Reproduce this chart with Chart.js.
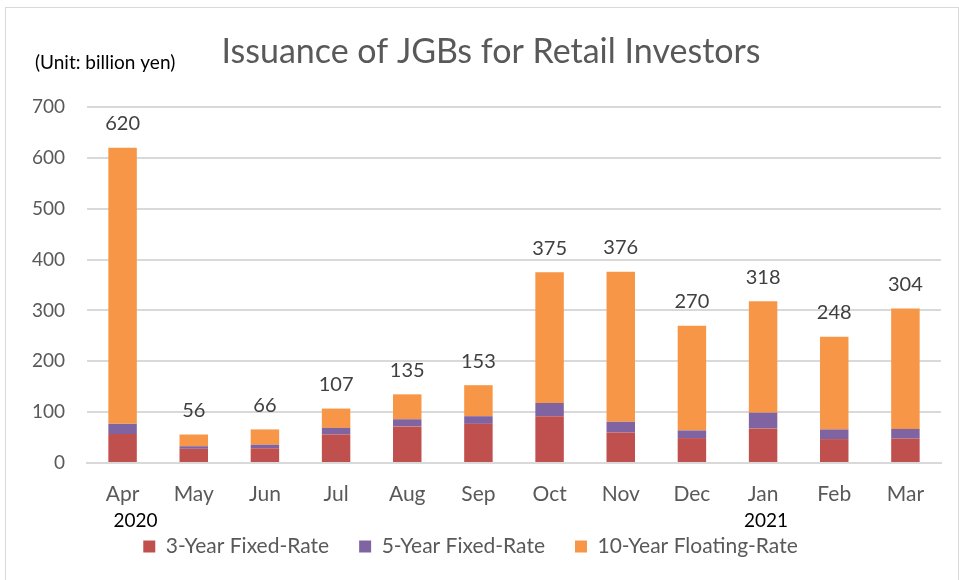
<!DOCTYPE html>
<html lang="en">
<head>
    <meta charset="UTF-8">
    <title>Issuance of JGBs for Retail Investors</title>
    <script src="https://cdn.jsdelivr.net/npm/chart.js"></script>
    <style>
        body {
            margin: 0;
            background: #fff;
        }
        .frame {
            position: absolute;
            left: 5px;
            top: 7px;
            width: 952px;
            height: 580px;
            border: 1px solid #d9d9d9;
        }
        canvas {
            position: absolute;
            left: 0;
            top: 0;
        }
    </style>
</head>
<body>
    <div class="frame"></div>
    <canvas id="jgbChart" width="959" height="580"></canvas>

    <script>
        const months = ['Apr', 'May', 'Jun', 'Jul', 'Aug', 'Sep', 'Oct', 'Nov', 'Dec', 'Jan', 'Feb', 'Mar'];
        const years = { Apr: '2020', Jan: '2021' };
        const fixed3 = [57, 28, 29, 56, 72, 77, 92, 60, 49, 68, 47, 48];
        const fixed5 = [20, 5, 7, 13, 14, 15, 26, 21, 15, 31, 19, 19];
        const floating10 = [543, 23, 30, 38, 49, 61, 257, 295, 206, 219, 182, 237];
        const totals = [620, 56, 66, 107, 135, 153, 375, 376, 270, 318, 248, 304];
        const yTicks = [0, 100, 200, 300, 400, 500, 600, 700];

        const fontName = 'Lato, "Open Sans", sans-serif';
        const grey = '#595959';

        // totals over the bars, title, unit note and year labels
        const extras = {
            id: 'extras',
            afterDatasetsDraw(chart) {
                const ctx = chart.ctx;
                const x = chart.scales.x;
                const y = chart.scales.y;
                ctx.save();
                ctx.fillStyle = '#404040';
                ctx.font = '20px ' + fontName;
                ctx.textAlign = 'center';
                ctx.textBaseline = 'bottom';
                totals.forEach((t, i) => {
                    ctx.fillText(t, x.getPixelForValue(i), y.getPixelForValue(t) - 14);
                });

                ctx.fillStyle = grey;
                ctx.font = '34px ' + fontName;
                ctx.textBaseline = 'middle';
                ctx.fillText('Issuance of JGBs for Retail Investors', 491, 52);

                ctx.fillStyle = '#000';
                ctx.font = '19px ' + fontName;
                ctx.textAlign = 'left';
                ctx.fillText('(Unit: billion yen)', 35, 63);

                ctx.textAlign = 'center';
                ctx.font = '19px ' + fontName;
                months.forEach((m, i) => {
                    if (years[m]) {
                        const off = i === 0 ? 13 : 3;
                        ctx.fillText(years[m], x.getPixelForValue(i) + off, 521);
                    }
                });
                ctx.restore();
            }
        };

        new Chart(document.getElementById('jgbChart'), {
            type: 'bar',
            data: {
                labels: months,
                datasets: [
                    { label: '3-Year Fixed-Rate', data: fixed3, backgroundColor: '#C0504D' },
                    { label: '5-Year Fixed-Rate', data: fixed5, backgroundColor: '#8064A2' },
                    { label: '10-Year Floating-Rate', data: floating10, backgroundColor: '#F79646' }
                ]
            },
            options: {
                responsive: false,
                animation: false,
                layout: { padding: { top: 107, right: 18, left: 0, bottom: 13 } },
                datasets: {
                    bar: { barPercentage: 0.4, categoryPercentage: 1 }
                },
                plugins: {
                    title: { display: false },
                    tooltip: { enabled: false },
                    legend: {
                        position: 'bottom',
                        labels: {
                            boxWidth: 12,
                            boxHeight: 12,
                            padding: 30,
                            color: grey,
                            font: { family: fontName, size: 21 }
                        }
                    }
                },
                scales: {
                    x: {
                        stacked: true,
                        grid: { display: false },
                        border: { color: '#d9d9d9', width: 2 },
                        ticks: { color: grey, padding: 11, font: { family: fontName, size: 21 } },
                        afterFit(scale) { scale.height = 43; }
                    },
                    y: {
                        stacked: true,
                        min: 0,
                        max: 700,
                        afterBuildTicks(scale) { scale.ticks = yTicks.map(v => ({ value: v })); },
                        grid: { color: '#d9d9d9', lineWidth: 2, drawTicks: false },
                        border: { display: false },
                        ticks: { color: grey, padding: 22, font: { family: fontName, size: 19 } },
                        afterFit(scale) { scale.width = 87; }
                    }
                }
            },
            plugins: [extras]
        });
    </script>
</body>
</html>
